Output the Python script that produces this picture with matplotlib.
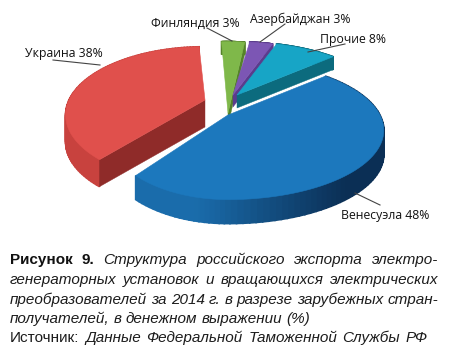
import numpy as np
import matplotlib
matplotlib.use("Agg")
import matplotlib.pyplot as plt
from matplotlib.patches import Polygon

# --- data ---
countries = ["Финляндия", "Азербайджан", "Прочие", "Венесуэла", "Украина"]
shares = [3, 3, 8, 48, 38]

# --- layout / style (pixels on a 450x357 canvas) ---
START = 93.0
PERSP = 0.22
apex = {"Финляндия": (228, 113), "Азербайджан": (233, 95), "Прочие": (237, 95),
        "Венесуэла": (228, 115), "Украина": (205, 100)}
# (x radius on the right, x radius on the left, y radius)
radii = {"Финляндия": (150, 150, 87), "Азербайджан": (150, 150, 65), "Прочие": (150, 150, 65),
         "Венесуэла": (152, 119, 66), "Украина": (136, 136, 65)}
depths = {"Финляндия": 12, "Азербайджан": 12, "Прочие": 13, "Венесуэла": 24, "Украина": 27}
top_col = {"Финляндия": "#7fb84a", "Азербайджан": "#7c56b4", "Прочие": "#17a5c6",
           "Венесуэла": "#1c78bd", "Украина": "#e0504c"}
cut_col = {"Финляндия": "#55822a", "Азербайджан": "#5b3c8c", "Прочие": "#0c6b7e",
           "Венесуэла": "#14507f", "Украина": "#8f2b29"}
wall_l = {"Финляндия": "#55822a", "Азербайджан": "#5b3c8c", "Прочие": "#0c6b7e",
          "Венесуэла": "#1a6cab", "Украина": "#c8423e"}
wall_r = {"Финляндия": "#55822a", "Азербайджан": "#5b3c8c", "Прочие": "#0c6b7e",
          "Венесуэла": "#0b2f55", "Украина": "#c8423e"}
cut_edge = {"Финляндия": -1, "Азербайджан": -1, "Прочие": -1, "Венесуэла": None, "Украина": 0}
label_font = ["Open Sans", "DejaVu Sans"]
caption_font = "Liberation Sans"

fig = plt.figure(figsize=(4.5, 3.57), dpi=100, facecolor="white")
ax = fig.add_axes([0, 0, 1, 1])
ax.set_xlim(0, 450)
ax.set_ylim(357, 0)
ax.axis("off")


def project(name, deg):
    t = np.radians(deg)
    d = 1 + PERSP * np.sin(t)
    rr, rl, ry = radii[name]
    ax0, ay0 = apex[name]
    c = np.cos(t)
    return ax0 + np.where(c >= 0, rr, rl) * c / d, ay0 - ry * np.sin(t) / d


deg_per = 360.0 / sum(shares)
spans = {}
a = START
for n, v in zip(countries, shares):
    spans[n] = (a, a - v * deg_per)
    a -= v * deg_per

for name in ["Украина", "Финляндия", "Азербайджан", "Прочие", "Венесуэла"]:
    a0, a1 = spans[name]
    ths = np.linspace(a0, a1, 90)
    xs, ys = project(name, ths)
    d = depths[name]
    x0, y0 = apex[name]

    c0 = np.array(matplotlib.colors.to_rgb(wall_l[name]))
    c1 = np.array(matplotlib.colors.to_rgb(wall_r[name]))
    xmin, xmax = xs.min(), xs.max()
    for i in range(len(ths) - 1):
        f = (xs[i] - xmin) / (xmax - xmin + 1e-9)
        f = np.clip((f - 0.25) / 0.6, 0, 1)
        col = c0 + (c1 - c0) * f
        ax.add_patch(Polygon([(xs[i], ys[i]), (xs[i + 1], ys[i + 1]),
                              (xs[i + 1], ys[i + 1] + d), (xs[i], ys[i] + d)],
                             closed=True, fc=col, ec=col, lw=1.2, zorder=2, antialiased=True))

    idx = cut_edge[name]
    if idx is not None:
        cx, cy = xs[idx], ys[idx]
        ax.add_patch(Polygon([(x0, y0), (cx, cy), (cx, cy + d), (x0, y0 + d)],
                             closed=True, fc=cut_col[name], ec=cut_col[name], lw=0.3, zorder=2))

    ax.add_patch(Polygon(np.column_stack([np.r_[x0, xs], np.r_[y0, ys]]),
                         closed=True, fc=top_col[name], ec=top_col[name], lw=0.4, zorder=2))

label_pos = {"Украина": (25, 53), "Финляндия": (151, 23), "Азербайджан": (250, 19),
             "Прочие": (320, 40), "Венесуэла": (341, 216)}
leaders = {"Украина": [(53, 60), (100, 65)], "Финляндия": [(207, 28), (232, 41)],
           "Азербайджан": [(285, 24), (260, 42)], "Прочие": [(345, 44), (308, 52)],
           "Венесуэла": [(355, 193), (380, 205)]}
for n, v in zip(countries, shares):
    px, py = label_pos[n]
    ax.text(px, py, f"{n} {v}%", fontsize=8.8, family=label_font, color="#111111",
            ha="left", va="center", zorder=5)
    (lx0, ly0), (lx1, ly1) = leaders[n]
    ax.plot([lx0, lx1], [ly0, ly1], color="#444444", lw=0.8, zorder=4)

caption = [
    (260, 438, [("Рисунок 9.", "bold", "normal", "#111111"),
                ("Структура российского экспорта электро-", "normal", "italic", "#1c1c1c")]),
    (280, 438, [("генераторных установок и вращающихся электрических", "normal", "italic", "#1c1c1c")]),
    (300, 438, [("преобразователей за 2014 г. в разрезе зарубежных стран-", "normal", "italic", "#1c1c1c")]),
    (319, 310, [("получателей, в денежном выражении (%)", "normal", "italic", "#1c1c1c")]),
    (338, 428, [("Источник:", "normal", "normal", "#1c1c1c"),
                ("Данные Федеральной Таможенной Службы РФ", "normal", "italic", "#1c1c1c")]),
]
CAP_L = 10
CAP_SIZE = 11.0
fig.canvas.draw()
rend = fig.canvas.get_renderer()
for y, right, runs in caption:
    words = []
    for s, w, st, c in runs:
        for tok in s.split():
            t = ax.text(0, y, tok, fontsize=CAP_SIZE, family=caption_font, weight=w, style=st,
                        color=c, ha="left", va="center", zorder=5)
            words.append((t, t.get_window_extent(rend).width))
    total = sum(wd for _, wd in words)
    gap = (right - CAP_L - total) / (len(words) - 1)
    x = CAP_L
    for t, wd in words:
        t.set_x(x)
        x += wd + gap

fig.savefig("out.png", dpi=100, facecolor="white")
